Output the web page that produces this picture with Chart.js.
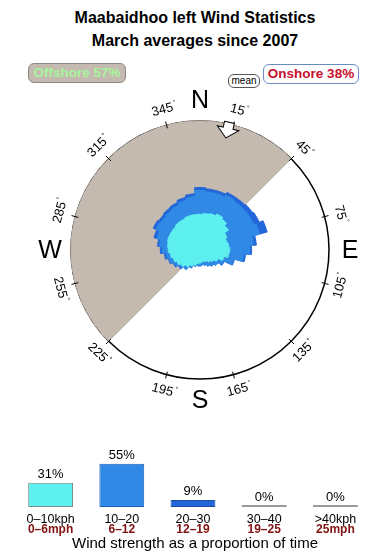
<!DOCTYPE html>
<html>
<head>
<meta charset="utf-8">
<script src="https://cdn.jsdelivr.net/npm/chart.js@4.4.0/dist/chart.umd.min.js"></script>
<style>
  body { margin: 0; background: #fff; font-family: "Liberation Sans", Arial, sans-serif; }
  #wrap { position: relative; width: 390px; height: 560px; overflow: hidden; }
  .t { position: absolute; left: 0; width: 390px; text-align: center; font-weight: bold; font-size: 16px; line-height: 16px; color: #000; }
  .badge { position: absolute; box-sizing: border-box; height: 20px; line-height: 18px; font-weight: bold; font-size: 13.5px; text-align: center; border-radius: 6px; border: 1px solid; }
  canvas { position: absolute; left: 0; }
  .foot { position: absolute; left: 0; width: 390px; top: 535px; text-align: center; font-size: 15px; line-height: 15px; color: #000; }
</style>
</head>
<body>
<div id="wrap">
  <div class="t" style="top:10px">Maabaidhoo left Wind Statistics</div>
  <div class="t" style="top:33px">March averages since 2007</div>
  <div class="badge" style="left:28px;top:63px;width:98px;background:#c5baaf;border-color:#8f8780;color:#a6f59c">Offshore 57%</div>
  <div class="badge" style="left:263px;top:64px;width:96px;background:#fff;border-color:#6b8cbf;color:#c8102e">Onshore 38%</div>
  <div class="badge" style="left:228px;top:74px;width:32px;height:14px;line-height:12px;font-size:10px;font-weight:normal;color:#000;border-color:#555;background:#fff">mean</div>
  <canvas id="rose" width="390" height="430" style="top:0"></canvas>
  <canvas id="speed" width="390" height="120" style="top:440px"></canvas>
  <div class="foot">Wind strength as a proportion of time</div>
</div>
<script>
// wind directions, 10 degree sectors, clockwise from north
const directions = [0, 10, 20, 30, 40, 50, 60, 70, 80, 90, 100, 110, 120, 130, 140, 150, 160, 170,
  180, 190, 200, 210, 220, 230, 240, 250, 260, 270, 280, 290, 300, 310, 320, 330, 340, 350];

// share of time per sector for each speed band (%)
const calm = [3.6, 3.7, 3.8, 4.0, 3.8, 3.5, 3.0, 2.8, 2.9, 3.0, 2.9, 2.5, 2.0, 1.7, 1.5, 1.3, 1.2, 1.2,
  1.3, 1.4, 1.6, 1.8, 2.1, 2.4, 2.6, 2.8, 3.0, 3.2, 3.3, 3.4, 3.4, 3.4, 3.5, 3.5, 3.6, 3.6];
const light = [2.4, 2.2, 2.1, 2.1, 2.2, 2.5, 3.0, 3.4, 2.5, 2.0, 1.5, 1.0, 0.6, 0.5, 0.5, 0.5, 0.4, 0.3,
  0.3, 0.2, 0.1, 0.2, 0.3, 0.2, 0.3, 0.4, 0.4, 0.6, 0.8, 1.1, 1.5, 1.4, 1.4, 1.5, 1.6, 1.8];
const moderate = [0.3, 0.3, 0.3, 0.3, 0.4, 0.5, 0.6, 0.8, 0.3, 0.2, 0.2, 0.1, 0.1, 0, 0, 0, 0, 0,
  0, 0, 0, 0, 0, 0.1, 0.1, 0.1, 0.2, 0.2, 0.2, 0.3, 0.3, 0.3, 0.3, 0.3, 0.3, 0.3];

const roseMax = 13;
const offshoreFrom = 225; // offshore sector runs clockwise 225 -> 45
const offshoreTo = 45;
const meanDir = 13;
const degreeLabels = [15, 45, 75, 105, 135, 165, 195, 225, 255, 285, 315, 345];
const cardinals = ['N', 'E', 'S', 'W'];

// speed histogram
const speedBands = ['0–10kph', '10–20', '20–30', '30–40', '>40kph'];
const mphBands = ['0–6mph', '6–12', '12–19', '19–25', '25mph'];
const speedShare = [31, 55, 9, 0, 0];

const cyan = '#5ef0ef';
const blue = '#3189e6';
const dark = '#2266d9';
const beige = '#c5baaf';

// stacked radii
const upTo20 = calm.map((v, i) => +(v + light[i]).toFixed(2));
const upTo30 = upTo20.map((v, i) => +(v + moderate[i]).toFixed(2));
const offshore = directions.map(d => (d > offshoreFrom || d < offshoreTo) ? roseMax : 0);

const compassPlugin = {
  id: 'compass',
  afterDraw(chart) {
    const s = chart.scales.r;
    const ctx = chart.ctx;
    const cx = s.xCenter, cy = s.yCenter, R = s.drawingArea;
    ctx.save();
    ctx.fillStyle = '#000';
    ctx.strokeStyle = '#000';

    degreeLabels.forEach(deg => {
      const a = deg * Math.PI / 180;
      const sx = Math.sin(a), sy = -Math.cos(a);
      ctx.lineWidth = 1;
      ctx.beginPath();
      ctx.moveTo(cx + sx * (R - 3), cy + sy * (R - 3));
      ctx.lineTo(cx + sx * (R + 4), cy + sy * (R + 4));
      ctx.stroke();

      ctx.save();
      ctx.translate(cx + sx * (R + 16), cy + sy * (R + 16));
      const rot = ((deg + 90) % 180) - 90;
      ctx.rotate(rot * Math.PI / 180);
      ctx.font = '13px "Liberation Sans"';
      ctx.textAlign = 'center';
      ctx.textBaseline = 'middle';
      const txt = String(deg);
      ctx.fillText(txt, 0, 0);
      const w = ctx.measureText(txt).width;
      ctx.font = '7px "Liberation Sans"';
      ctx.textAlign = 'left';
      ctx.fillText('°', w / 2 + 1, -4);
      ctx.restore();
    });

    ctx.font = '25px "Liberation Sans"';
    ctx.textAlign = 'center';
    ctx.textBaseline = 'middle';
    cardinals.forEach((c, i) => {
      const a = i * Math.PI / 2;
      ctx.fillText(c, cx + Math.sin(a) * (R + 21), cy - Math.cos(a) * (R + 21) + 1);
    });

    // mean direction arrow, pointing inwards
    const ma = meanDir * Math.PI / 180;
    ctx.translate(cx + Math.sin(ma) * (R + 1), cy - Math.cos(ma) * (R + 1));
    ctx.rotate(ma);
    ctx.beginPath();
    ctx.moveTo(-5, -1);
    ctx.lineTo(5, -1);
    ctx.lineTo(5, 5);
    ctx.lineTo(11, 5);
    ctx.lineTo(0, 15);
    ctx.lineTo(-11, 5);
    ctx.lineTo(-5, 5);
    ctx.closePath();
    ctx.fillStyle = '#fff';
    ctx.fill();
    ctx.lineWidth = 1;
    ctx.stroke();
    ctx.restore();
  }
};

new Chart(document.getElementById('rose'), {
  type: 'polarArea',
  data: {
    labels: directions.map(d => d + '°'),
    datasets: [
      { data: calm, backgroundColor: cyan, borderColor: cyan, borderWidth: 1 },
      { data: upTo20, backgroundColor: blue, borderColor: blue, borderWidth: 1 },
      { data: upTo30, backgroundColor: dark, borderColor: dark, borderWidth: 1 },
      { data: offshore, backgroundColor: beige, borderColor: beige, borderWidth: 1 }
    ]
  },
  options: {
    responsive: false,
    animation: false,
    layout: { padding: { left: 71, right: 61, top: 121, bottom: 51 } },
    plugins: { legend: { display: false }, tooltip: { enabled: false } },
    scales: {
      r: {
        min: 0,
        max: roseMax,
        startAngle: -5,
        z: 1,
        ticks: { display: false, stepSize: roseMax },
        grid: {
          color: c => c.tick.value === roseMax ? '#000' : 'rgba(0,0,0,0)',
          lineWidth: 1.5
        },
        angleLines: { display: false },
        pointLabels: { display: false }
      }
    }
  },
  plugins: [compassPlugin]
});

const barLabels = {
  id: 'barLabels',
  afterDatasetsDraw(chart) {
    const ctx = chart.ctx;
    const meta = chart.getDatasetMeta(0);
    ctx.save();
    ctx.textAlign = 'center';
    ctx.textBaseline = 'alphabetic';
    meta.data.forEach((bar, i) => {
      ctx.fillStyle = '#000';
      ctx.font = '13px "Liberation Sans"';
      ctx.fillText(speedShare[i] + '%', bar.x, bar.y - 4.5);
      ctx.font = '12.5px "Liberation Sans"';
      ctx.fillText(speedBands[i], bar.x, 82.7);
      ctx.fillStyle = '#7f1212';
      ctx.font = 'bold 12px "Liberation Sans"';
      ctx.fillText(mphBands[i], bar.x, 92.5);
    });
    ctx.restore();
  }
};

new Chart(document.getElementById('speed'), {
  type: 'bar',
  data: {
    labels: speedBands,
    datasets: [{
      data: speedShare,
      backgroundColor: [cyan, blue, dark, '#9a9a9a', '#9a9a9a'],
      borderColor: ['#7a8a8a', '#1f5fb0', '#1a4fa0', '#9a9a9a', '#9a9a9a'],
      borderWidth: [1, 1, 1, 0, 0],
      borderSkipped: false,
      minBarLength: 2,
      barPercentage: 0.63,
      categoryPercentage: 1
    }]
  },
  options: {
    responsive: false,
    animation: false,
    layout: { padding: { left: 15, right: 19, top: 12, bottom: 53 } },
    plugins: { legend: { display: false }, tooltip: { enabled: false } },
    scales: {
      x: { display: false },
      y: { display: false, min: 0, max: 70 }
    }
  },
  plugins: [barLabels]
});
</script>
</body>
</html>
